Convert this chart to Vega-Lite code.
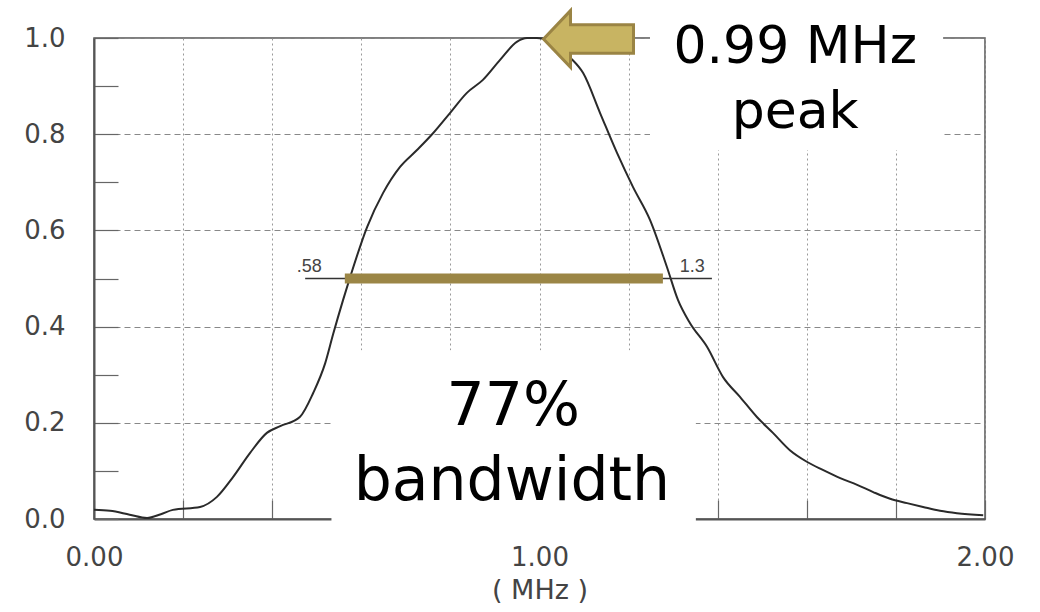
{
  "$schema": "https://vega.github.io/schema/vega-lite/v6.json",
  "width": 891,
  "height": 481,
  "autosize": "none",
  "padding": {"left": 94, "top": 38, "right": 55, "bottom": 93},
  "background": "white",
  "config": {
    "view": {"stroke": "#555", "strokeWidth": 1.5},
    "axis": {"labelFont": "DejaVu Sans", "labelColor": "#444", "titleFont": "DejaVu Sans", "titleColor": "#444", "titleFontWeight": "normal", "domainColor": "#555", "domainWidth": 2, "tickColor": "#666", "tickWidth": 1.2}
  },
  "layer": [
    {
      "data": {"values": [
        {"f": 0.000, "a": 0.019}, {"f": 0.036, "a": 0.017}, {"f": 0.080, "a": 0.009}, {"f": 0.119, "a": 0.002},
        {"f": 0.150, "a": 0.010}, {"f": 0.177, "a": 0.019}, {"f": 0.238, "a": 0.025}, {"f": 0.276, "a": 0.046},
        {"f": 0.312, "a": 0.087}, {"f": 0.350, "a": 0.137}, {"f": 0.388, "a": 0.179}, {"f": 0.418, "a": 0.193},
        {"f": 0.462, "a": 0.212}, {"f": 0.492, "a": 0.262}, {"f": 0.519, "a": 0.324}, {"f": 0.537, "a": 0.385},
        {"f": 0.559, "a": 0.455}, {"f": 0.575, "a": 0.503}, {"f": 0.613, "a": 0.607}, {"f": 0.649, "a": 0.678},
        {"f": 0.687, "a": 0.732}, {"f": 0.725, "a": 0.767}, {"f": 0.761, "a": 0.802}, {"f": 0.799, "a": 0.844},
        {"f": 0.837, "a": 0.886}, {"f": 0.873, "a": 0.913}, {"f": 0.911, "a": 0.954}, {"f": 0.949, "a": 0.992},
        {"f": 0.972, "a": 1.000}, {"f": 0.994, "a": 1.000}, {"f": 1.020, "a": 0.995}, {"f": 1.045, "a": 0.980},
        {"f": 1.068, "a": 0.960}, {"f": 1.098, "a": 0.927}, {"f": 1.136, "a": 0.844}, {"f": 1.174, "a": 0.761},
        {"f": 1.210, "a": 0.690}, {"f": 1.248, "a": 0.622}, {"f": 1.286, "a": 0.524}, {"f": 1.311, "a": 0.455},
        {"f": 1.338, "a": 0.407}, {"f": 1.376, "a": 0.358}, {"f": 1.412, "a": 0.295}, {"f": 1.450, "a": 0.254},
        {"f": 1.488, "a": 0.212}, {"f": 1.524, "a": 0.179}, {"f": 1.562, "a": 0.143}, {"f": 1.600, "a": 0.119},
        {"f": 1.636, "a": 0.102}, {"f": 1.675, "a": 0.085}, {"f": 1.713, "a": 0.071}, {"f": 1.749, "a": 0.056},
        {"f": 1.787, "a": 0.042}, {"f": 1.825, "a": 0.033}, {"f": 1.861, "a": 0.025}, {"f": 1.899, "a": 0.017},
        {"f": 1.937, "a": 0.012}, {"f": 1.996, "a": 0.008}
      ]},
      "mark": {"type": "line", "color": "#2a2a2a", "strokeWidth": 2, "interpolate": "monotone"},
      "encoding": {
        "x": {"field": "f", "type": "quantitative", "scale": {"domain": [0, 2], "nice": false},
          "axis": {"values": [0, 0.2, 0.4, 0.6, 0.8, 1, 1.2, 1.4, 1.6, 1.8, 2],
            "labelExpr": "datum.value % 1 == 0 ? format(datum.value, '.2f') : ''",
            "labelFontSize": 26, "labelPadding": 44, "tickSize": -19, "labelFlush": false,
            "grid": true, "gridDash": [2, 3], "gridColor": "#999", "gridWidth": 1,
            "title": "( MHz )", "titleFontSize": 27, "titlePadding": 7}},
        "y": {"field": "a", "type": "quantitative", "scale": {"domain": [0, 1], "nice": false},
          "axis": {"values": [0, 0.1, 0.2, 0.3, 0.4, 0.5, 0.6, 0.7, 0.8, 0.9, 1],
            "labelExpr": "round(datum.value * 10) % 2 == 0 ? format(datum.value, '.1f') : ''",
            "labelFontSize": 26, "labelPadding": 53, "tickSize": -24, "labelFlush": false,
            "grid": true, "gridDash": [6, 4], "gridColor": "#888", "gridWidth": 1,
            "gridOpacity": {"condition": {"test": "round(datum.value * 10) % 2 == 1", "value": 0}, "value": 1},
            "title": null}}
      }
    },
    {
      "data": {"values": [{}]},
      "mark": {"type": "rect", "color": "white", "clip": false},
      "encoding": {"x": {"datum": 1.248}, "x2": {"datum": 1.906}, "y": {"datum": 1.085}, "y2": {"datum": 0.767}}
    },
    {
      "data": {"values": [{}]},
      "mark": {"type": "rect", "color": "white", "clip": false},
      "encoding": {"x": {"datum": 0.533}, "x2": {"datum": 1.351}, "y": {"datum": 0.351}, "y2": {"datum": -0.023}}
    },
    {
      "data": {"values": [{}]},
      "mark": {"type": "rule", "color": "#333", "strokeWidth": 1.3},
      "encoding": {"x": {"datum": 0.474}, "x2": {"datum": 1.387}, "y": {"datum": 0.5}}
    },
    {
      "data": {"values": [{}]},
      "mark": {"type": "rule", "color": "#9B8646", "strokeWidth": 10},
      "encoding": {"x": {"datum": 0.563}, "x2": {"datum": 1.277}, "y": {"datum": 0.5}}
    },
    {
      "data": {"values": [{}]},
      "mark": {"type": "text", "text": ".58", "font": "Liberation Sans", "fontSize": 18, "color": "#444", "align": "center", "baseline": "alphabetic"},
      "encoding": {"x": {"datum": 0.483}, "y": {"datum": 0.514}}
    },
    {
      "data": {"values": [{}]},
      "mark": {"type": "text", "text": "1.3", "font": "Liberation Sans", "fontSize": 18, "color": "#444", "align": "center", "baseline": "alphabetic"},
      "encoding": {"x": {"datum": 1.343}, "y": {"datum": 0.514}}
    },
    {
      "data": {"values": [{}]},
      "mark": {"type": "point", "shape": "M -1 0 L -0.4 -0.63 L -0.4 -0.315 L 1 -0.315 L 1 0.315 L -0.4 0.315 L -0.4 0.63 Z",
        "size": 8100, "filled": true, "fill": "#C8B462", "stroke": "#9A8444", "strokeWidth": 3, "opacity": 1, "clip": false},
      "encoding": {"x": {"datum": 1.110}, "y": {"datum": 0.998}}
    },
    {
      "data": {"values": [{}]},
      "mark": {"type": "text", "text": "0.99 MHz", "font": "DejaVu Sans", "fontSize": 52, "color": "black", "align": "center", "baseline": "alphabetic"},
      "encoding": {"x": {"datum": 1.574}, "y": {"datum": 0.948}}
    },
    {
      "data": {"values": [{}]},
      "mark": {"type": "text", "text": "peak", "font": "DejaVu Sans", "fontSize": 52, "color": "black", "align": "center", "baseline": "alphabetic"},
      "encoding": {"x": {"datum": 1.574}, "y": {"datum": 0.813}}
    },
    {
      "data": {"values": [{}]},
      "mark": {"type": "text", "text": "77%", "font": "DejaVu Sans", "fontSize": 60, "color": "black", "align": "center", "baseline": "alphabetic"},
      "encoding": {"x": {"datum": 0.941}, "y": {"datum": 0.195}}
    },
    {
      "data": {"values": [{}]},
      "mark": {"type": "text", "text": "bandwidth", "font": "DejaVu Sans", "fontSize": 60, "color": "black", "align": "center", "baseline": "alphabetic"},
      "encoding": {"x": {"datum": 0.938}, "y": {"datum": 0.040}}
    }
  ]
}
